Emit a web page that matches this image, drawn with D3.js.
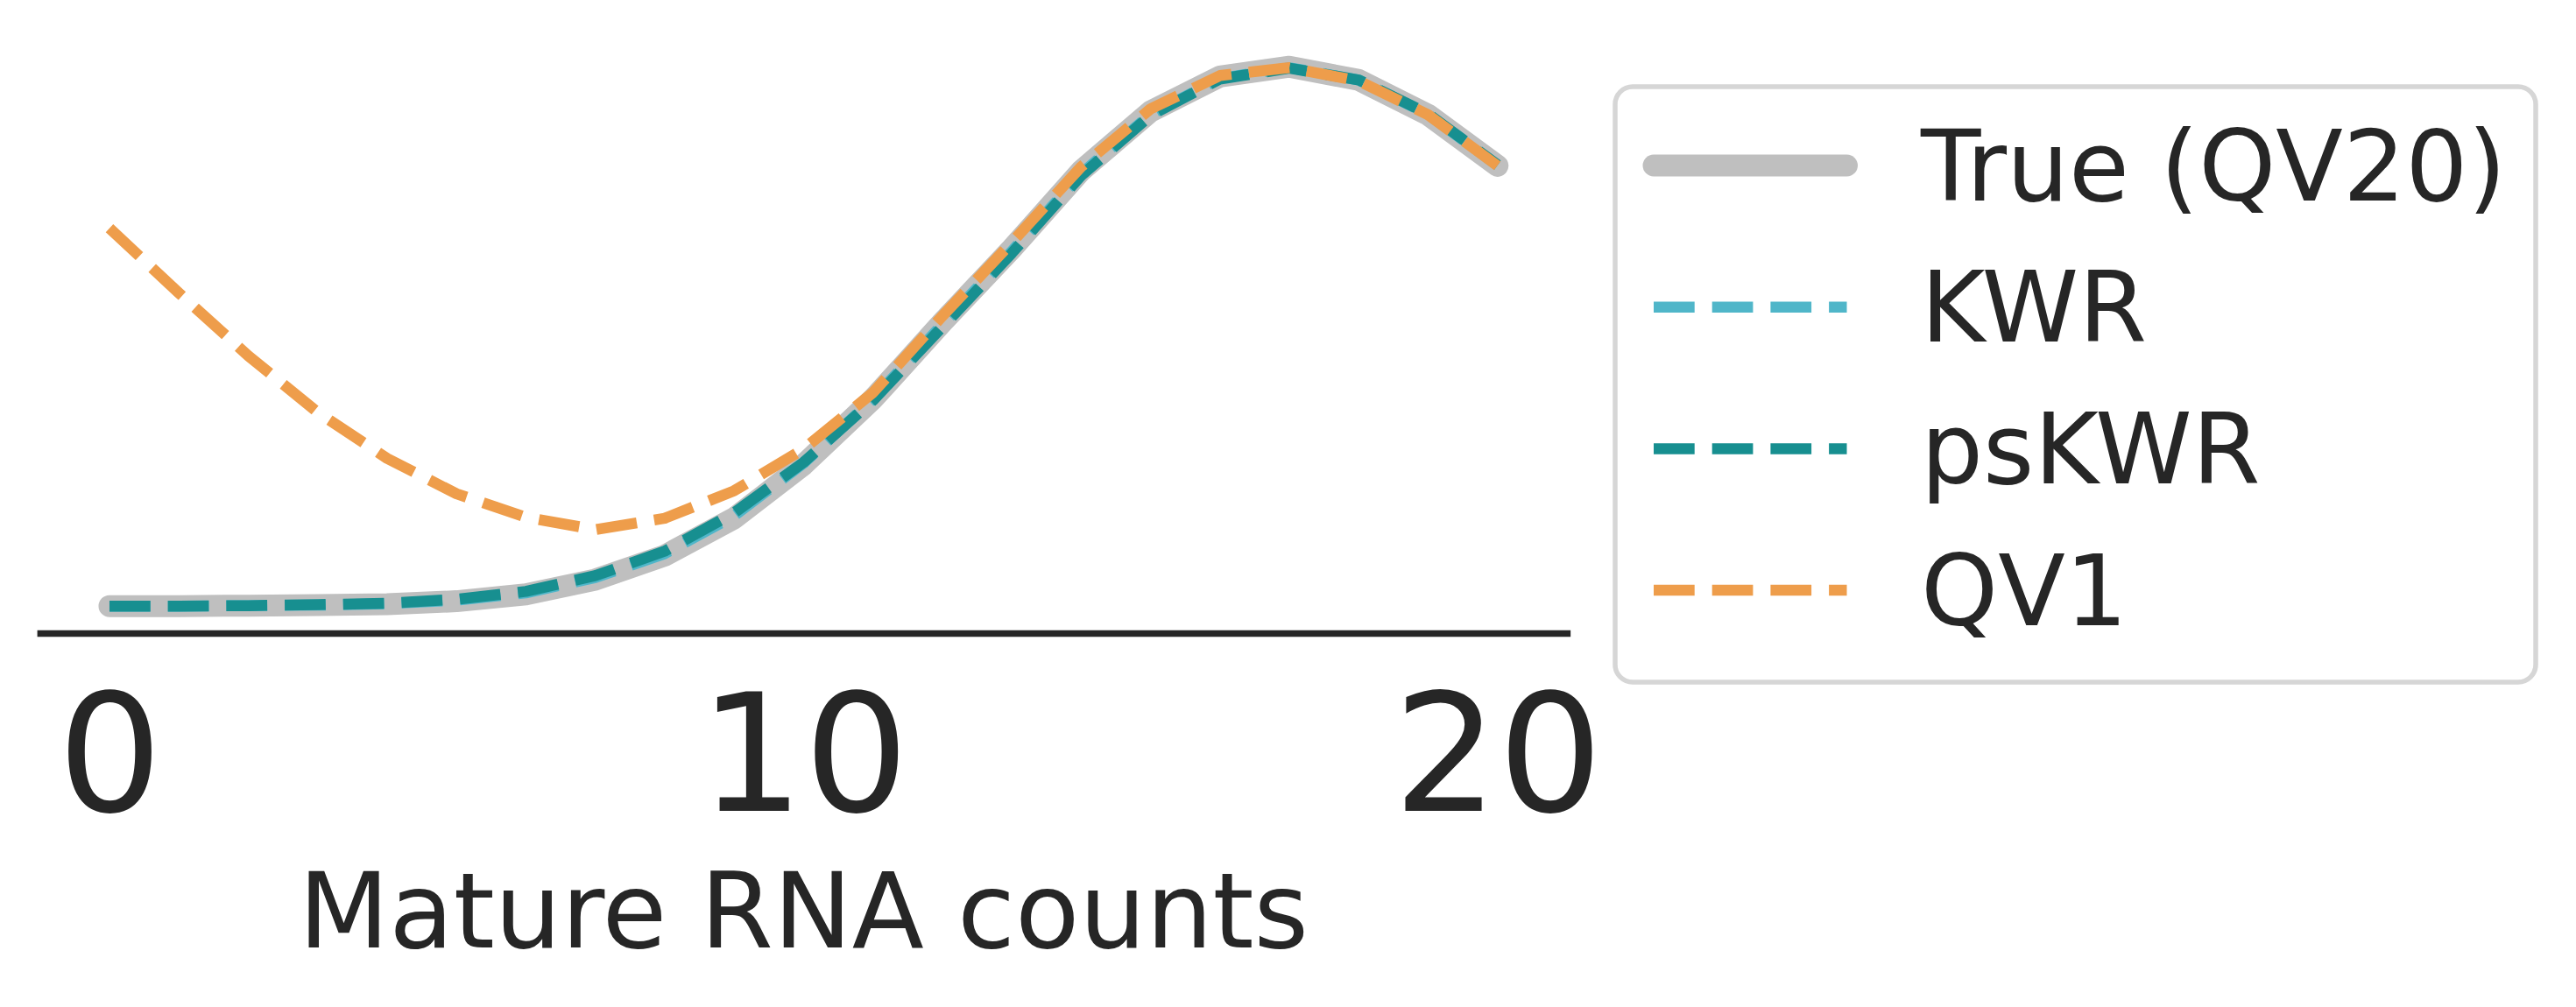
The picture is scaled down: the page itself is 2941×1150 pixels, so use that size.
<!DOCTYPE html>
<html>
<head>
<meta charset="utf-8">
<script src="https://cdn.jsdelivr.net/npm/d3@7"></script>
<style>
  body { margin: 0; background: #fff; }
  text { font-family: "DejaVu Sans", sans-serif; fill: #262626; }
</style>
</head>
<body>
<div id="chart"></div>
<script>
// mature RNA count (x axis)
const counts = [0, 1, 2, 3, 4, 5, 6, 7, 8, 9, 10, 11, 12, 13, 14, 15, 16, 17, 18, 19, 20];

// probability of each count
const trueQV20 = [0.0001, 0.0001, 0.0002, 0.0003, 0.0005, 0.0011, 0.0025, 0.0055, 0.0104, 0.0180, 0.0289,
                  0.0423, 0.0579, 0.0729, 0.0888, 0.1009, 0.1080, 0.1100, 0.1073, 0.1002, 0.0898];
const kwr = [0.0001, 0.0001, 0.0002, 0.0003, 0.0006, 0.0013, 0.0028, 0.0059, 0.0108, 0.0185, 0.0292,
             0.0423, 0.0575, 0.0724, 0.0882, 0.1003, 0.1076, 0.1098, 0.1073, 0.1003, 0.0899];
const psKwr = [0.0001, 0.0001, 0.0002, 0.0004, 0.0007, 0.0015, 0.0031, 0.0063, 0.0113, 0.0191, 0.0294,
               0.0420, 0.0570, 0.0720, 0.0878, 0.1001, 0.1075, 0.1097, 0.1073, 0.1004, 0.0900];
const qv1 = [0.0771, 0.0639, 0.0511, 0.0396, 0.0302, 0.0230, 0.0182, 0.0157, 0.0180, 0.0236, 0.0321,
             0.0436, 0.0592, 0.0742, 0.0896, 0.1014, 0.1082, 0.1098, 0.1071, 0.1002, 0.0898];

const xTicks = [0, 10, 20];
const xLabel = "Mature RNA counts";

const series = [
  {name: "True (QV20)", values: trueQV20, color: "#bfbfbf", width: 25, dash: null},
  {name: "KWR", values: kwr, color: "#50b6c9", width: 12.5, dash: "46.7,20"},
  {name: "psKWR", values: psKwr, color: "#178f90", width: 12.5, dash: "46.7,20"},
  {name: "QV1", values: qv1, color: "#ee9d4b", width: 12.5, dash: "46.7,20"}
];

const W = 2941, H = 1150;
const svg = d3.select("#chart").append("svg")
  .attr("width", W)
  .attr("height", H);

svg.append("rect").attr("width", W).attr("height", H).attr("fill", "#fff");

// plot area (matplotlib style 5% margins on data)
const plotLeft = 45.75, plotRight = 1789, plotBottom = 723, plotTop = 45.4;

const x = d3.scaleLinear()
  .domain([-1, 21])
  .range([plotLeft, plotRight]);

let allVals = series.flatMap(s => s.values);
let lo = d3.min(allVals), hi = d3.max(allVals);
let pad = (hi - lo) * 0.05;
const y = d3.scaleLinear()
  .domain([lo - pad, hi + pad])
  .range([plotBottom, plotTop]);

const line = d3.line()
  .x((d, i) => x(counts[i]))
  .y(d => y(d));

// lines
svg.append("g")
  .selectAll("path")
  .data(series).enter()
  .append("path")
    .attr("d", s => line(s.values))
    .attr("fill", "none")
    .attr("stroke", s => s.color)
    .attr("stroke-width", s => s.width)
    .attr("stroke-linejoin", "round")
    .attr("stroke-linecap", s => s.dash ? "butt" : "round")
    .attr("stroke-dasharray", s => s.dash);

// bottom axis, no tick marks
let xAxis = svg.append("g")
  .attr("transform", `translate(0,${plotBottom})`)
  .call(d3.axisBottom(x)
    .tickValues(xTicks)
    .tickFormat(d3.format("d"))
    .tickSize(0)
    .tickSizeOuter(0)
    .tickPadding(69.5));

xAxis.select(".domain")
  .attr("stroke", "#262626")
  .attr("stroke-width", 7.3)
  .attr("stroke-linecap", "square");

xAxis.selectAll(".tick text")
  .attr("font-family", "DejaVu Sans")
  .attr("font-size", 188)
  .attr("fill", "#262626");

svg.append("text")
  .attr("x", (plotLeft + plotRight) / 2)
  .attr("y", 1081.5)
  .attr("text-anchor", "middle")
  .attr("font-size", 120)
  .text(xLabel);

// legend
let legend = svg.append("g");

legend.append("rect")
  .attr("x", 1844)
  .attr("y", 99)
  .attr("width", 1051)
  .attr("height", 680)
  .attr("rx", 20)
  .attr("fill", "#fff")
  .attr("stroke", "#d6d6d6")
  .attr("stroke-width", 5.5);

let rows = legend.selectAll("g.row")
  .data(series).enter()
  .append("g")
    .attr("class", "row")
    .attr("transform", (d, i) => `translate(0,${189 + i * 161.7})`);

rows.append("line")
  .attr("x1", 1888)
  .attr("x2", 2108.5)
  .attr("stroke", d => d.color)
  .attr("stroke-width", d => d.width)
  .attr("stroke-linecap", d => d.dash ? "butt" : "round")
  .attr("stroke-dasharray", d => d.dash);

rows.append("text")
  .attr("x", 2193)
  .attr("y", 39.5)
  .attr("font-size", 112)
  .text(d => d.name);
</script>
</body>
</html>
